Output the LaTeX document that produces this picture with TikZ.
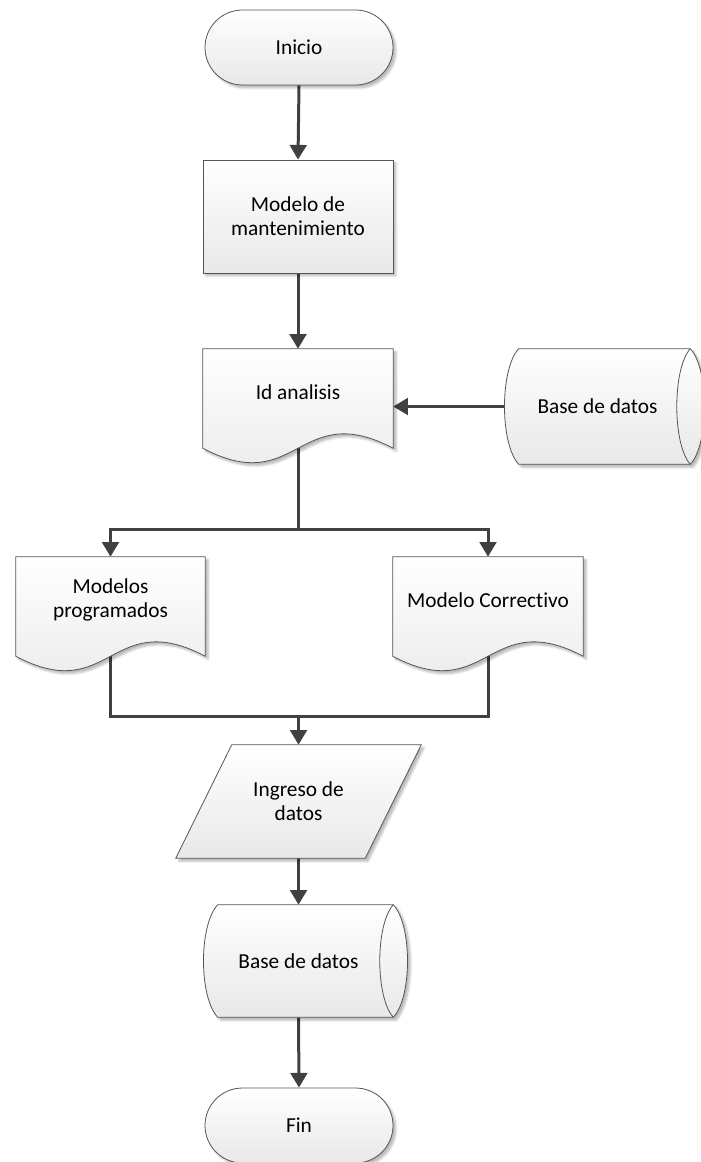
\documentclass[tikz,border=0pt]{standalone}
\usepackage{fontspec}
\setmainfont[Ligatures=NoCommon]{Carlito}
\usetikzlibrary{shapes.misc,shadows,shadows.blur,arrows.meta,calc}

\definecolor{edgecol}{RGB}{85,85,85}
\definecolor{wirecol}{RGB}{64,64,64}
\definecolor{shadebot}{RGB}{232,232,232}

\pgfdeclarelayer{wires}
\pgfdeclarelayer{shapes}
\pgfsetlayers{wires,shapes,main}

\tikzset{
  lbl/.style={font=\fontsize{16}{18}\selectfont, align=center, inner sep=0pt},
  skin/.style={draw=edgecol, line width=0.6pt, top color=white, bottom color=shadebot,
    blur shadow={shadow xshift=2.2pt, shadow yshift=-2.2pt, shadow blur steps=6,
      shadow blur radius=1.6pt, shadow opacity=28}},
  term/.style={lbl, skin, rounded rectangle, minimum width=141pt, minimum height=56.25pt},
  proc/.style={lbl, skin, rectangle, minimum width=142.5pt, minimum height=84.75pt},
  holder/.style={lbl, rectangle},
  wire/.style={draw=wirecol, line width=2.25pt},
  arrowed/.style={wire, -{Triangle[length=11pt,width=12.5pt]}},
}

% document symbol: flat top, wavy bottom edge below the node
\newcommand\DocOutline[1]{%
  \path[skin] (#1.north west) -- (#1.north east) -- ($(#1.south east)+(0,13)$)
    .. controls ($(#1.south)+(0,-37)$) and ($(#1.south)+(0,63)$) .. ($(#1.south west)+(0,13)$)
    -- cycle;}
% stored-data symbol: curved left side, lens on the right
\newcommand\StoreOutline[1]{%
  \path[skin] ($(#1.north west)+(14,0)$) -- (#1.north east)
    .. controls ($(#1.north east)+(19,20)$) and ($(#1.south east)+(19,-20)$) .. (#1.south east)
    -- ($(#1.south west)+(14,0)$)
    .. controls ($(#1.south west)+(-5,-20)$) and ($(#1.north west)+(-5,20)$) .. ($(#1.north west)+(14,0)$)
    -- cycle;
  \draw[draw=edgecol, line width=0.6pt] (#1.north east)
    .. controls ($(#1.north east)+(-18,20)$) and ($(#1.south east)+(-18,-20)$) .. (#1.south east);}
% input/output symbol
\newcommand\SlantOutline[1]{%
  \path[skin] ($(#1.north west)+(28,0)$) -- ($(#1.north east)+(28,0)$)
    -- ($(#1.south east)+(-28,0)$) -- ($(#1.south west)+(-28,0)$) -- cycle;}

\begin{document}
\begin{tikzpicture}[x=0.75pt, y=-0.75pt]
\useasboundingbox (0,0) rectangle (700,1162);

% nodes
\node[term] (ini) at (299,47.5) {Inicio};
\node[proc] (mod) at (298,216.5) {Modelo de\\mantenimiento};
\node[holder, minimum width=142.5pt, minimum height=64.5pt] (ida) at (298,392) {Id analisis};
\node[holder, minimum width=138.75pt, minimum height=86.25pt] (db1) at (597.5,406.5) {Base de datos};
\node[holder, minimum width=141.75pt, minimum height=64.5pt] (lp) at (110.5,600) {Modelos\\programados};
\node[holder, minimum width=142.5pt, minimum height=64.5pt] (rc) at (488,600) {Modelo Correctivo};
\node[holder, minimum width=141.75pt, minimum height=84.75pt] (ing) at (298.5,801.5) {Ingreso de\\datos};
\node[holder, minimum width=141.75pt, minimum height=84pt] (db2) at (298.5,961) {Base de datos};
\node[term] (fin) at (299,1125.5) {Fin};

% symbol outlines
\begin{pgfonlayer}{shapes}
  \DocOutline{ida}
  \DocOutline{lp}
  \DocOutline{rc}
  \StoreOutline{db1}
  \StoreOutline{db2}
  \SlantOutline{ing}
\end{pgfonlayer}

% connectors
\begin{pgfonlayer}{wires}
  \coordinate (split) at (298,529);
  \coordinate (join) at (298.5,716);
  \draw[arrowed] (ini.south) -- (mod.north);
  \draw[arrowed] (mod.south) -- (ida.north);
  \draw[arrowed] (db1.west) -- (db1.west -| ida.east);
  \draw[wire] (ida.south) -- (split);
  \draw[arrowed] (split) -| (lp.north);
  \draw[arrowed] (split) -| (rc.north);
  \draw[wire] (lp.south) |- (join);
  \draw[wire] (rc.south) |- (join);
  \draw[arrowed] (join) -- (ing.north);
  \draw[arrowed] (ing.south) -- (db2.north);
  \draw[arrowed] (db2.south) -- (fin.north);
\end{pgfonlayer}
\end{tikzpicture}
\end{document}
